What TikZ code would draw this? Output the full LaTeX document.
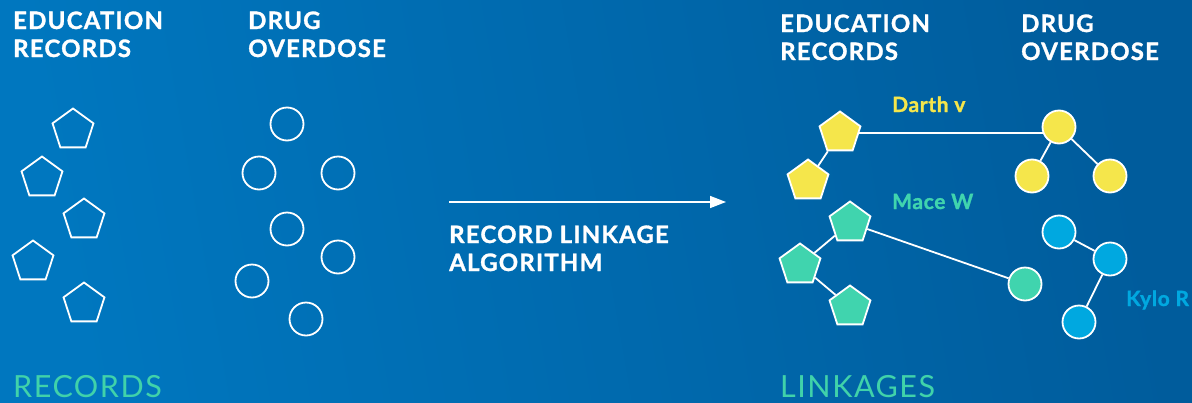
\documentclass[tikz,border=0pt]{standalone}
\usepackage{fontspec}
\setmainfont{Lato}
\newfontfamily\headfont[LetterSpace=5,FakeBold=1.2]{Lato Bold}
\newfontfamily\tagfont[LetterSpace=3,FakeBold=1.2]{Lato Bold}
\newfontfamily\lightfont[LetterSpace=5]{Lato}
\usetikzlibrary{shapes.geometric,arrows.meta}
\definecolor{bgleft}{RGB}{0,119,191}
\definecolor{bgright}{RGB}{0,92,156}
\definecolor{dyellow}{RGB}{245,230,75}
\definecolor{dgreen}{RGB}{64,212,174}
\definecolor{dblue}{RGB}{0,168,224}
\definecolor{lgreen}{RGB}{64,210,170}
\pgfdeclarelayer{bg}
\pgfdeclarelayer{edges}
\pgfsetlayers{bg,edges,main}
\tikzset{
  head/.style={anchor=base west,inner sep=0pt,text=white,font=\headfont\fontsize{24}{27}\selectfont,align=left},
  tag/.style={anchor=base west,inner sep=0pt,font=\tagfont\fontsize{21}{24}\selectfont},
  foot/.style={anchor=base west,inner sep=0pt,text=lgreen,font=\lightfont\fontsize{30.5}{34}\selectfont},
  pent/.style={regular polygon,regular polygon sides=5,minimum size=43pt,inner sep=0pt,draw=white,line width=1.8pt},
  circ/.style={circle,minimum size=33pt,inner sep=0pt,draw=white,line width=1.8pt},
  link/.style={draw=white,line width=1.8pt},
}
\begin{document}
\begin{tikzpicture}[x=1pt,y=-1pt]
\begin{pgfonlayer}{bg}
  \shade[left color=bgleft,right color=bgright,shading angle=100] (0,0) rectangle (1192,402);
\end{pgfonlayer}
\useasboundingbox (0,0) rectangle (1192,402);

% column headings (anchored on the baseline of the second line)
\node[head] (h1) at (13,57) {EDUCATION\\[1pt]RECORDS};
\node[head] (h2) at (248,57) {DRUG\\[1pt]OVERDOSE};
\node[head] (h3) at (780,60) {EDUCATION\\[1pt]RECORDS};
\node[head] (h4) at (1021,60) {DRUG\\[1pt]OVERDOSE};

% unlinked records
\node[pent] (p1) at (73,130) {};
\node[pent] (p2) at (42,178) {};
\node[pent] (p3) at (84,220) {};
\node[pent] (p4) at (33,262) {};
\node[pent] (p5) at (84,304) {};

\node[circ] (c1) at (287,124) {};
\node[circ] (c2) at (259,173) {};
\node[circ] (c3) at (338,173) {};
\node[circ] (c4) at (287,229) {};
\node[circ] (c5) at (338,257) {};
\node[circ] (c6) at (252,281) {};
\node[circ] (c7) at (306,319) {};

% algorithm arrow
\coordinate (a1) at (449,202);
\coordinate (a2) at (726,202);
\draw[white,line width=1.5pt,-{Triangle[length=16pt,width=12pt]}] (a1) -- (a2);
\node[head] (alg) at (449,271) {RECORD LINKAGE\\[1pt]ALGORITHM};

% linked groups
\node[pent,fill=dyellow] (ya) at (840,133) {};
\node[pent,fill=dyellow] (yb) at (808,181) {};
\node[circ,fill=dyellow] (yc) at (1059,127) {};
\node[circ,fill=dyellow] (yd) at (1032,176) {};
\node[circ,fill=dyellow] (ye) at (1110,176) {};

\node[pent,fill=dgreen] (gf) at (850,223) {};
\node[pent,fill=dgreen] (gg) at (800,265) {};
\node[pent,fill=dgreen] (gh) at (850,307) {};
\node[circ,fill=dgreen] (gi) at (1025,284) {};

\node[circ,fill=dblue] (bj) at (1059,232) {};
\node[circ,fill=dblue] (bk) at (1110,259) {};
\node[circ,fill=dblue] (bl) at (1079,322) {};

\begin{pgfonlayer}{edges}
  \path[link] (ya) -- (yb);
  \path (ya.east) ++(-4,0) coordinate (yae);
  \path[link] (yae) -- (yc.center |- yae);
  \path[link] (yc) -- (yd);
  \path[link] (yc) -- (ye);
  \path[link] (gf) -- (gg);
  \path[link] (gg) -- (gh);
  \path[link] (gf) -- (gi);
  \path[link] (bj) -- (bk);
  \path[link] (bk) -- (bl);
\end{pgfonlayer}

\node[tag,text=dyellow] (t1) at (892,112) {Darth v};
\node[tag,text=dgreen] (t2) at (892,209) {Mace W};
\node[tag,text=dblue] (t3) at (1126,306) {Kylo R};

% section captions
\node[foot] (f1) at (13,397) {RECORDS};
\node[foot] (f2) at (780,397) {LINKAGES};
\end{tikzpicture}
\end{document}
